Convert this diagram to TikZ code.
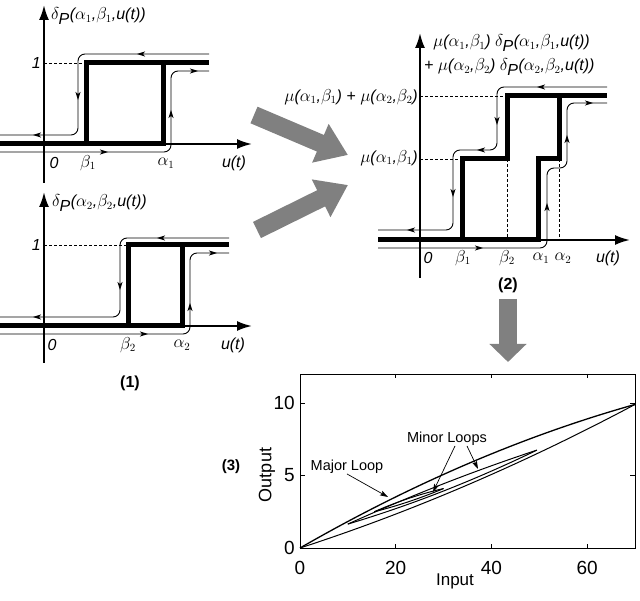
\documentclass[tikz,border=0pt]{standalone}
\usepackage{fontspec}
\setmainfont{Liberation Sans}
\usepackage{tikz}
\usetikzlibrary{arrows.meta,decorations.markings}
\definecolor{arrowgray}{RGB}{128,128,128}
\tikzset{
 axis/.style
  = {line width=2pt, -{Latex[length=15pt,width=10pt]}},
 relay/.style
  = {line width=5pt, line join=miter},
 branch/.style
  = {line width=0.9pt, rounded corners=7pt},
 flow/.style
  = {postaction={decorate, decoration={markings,
     mark=at position #1pt with {\arrow{Stealth[length=8pt,width=5pt,inset=2pt]}}}}},
 guide/.style
  = {line width=0.7pt, dash pattern=on 3pt off 2pt},
 bigarrow/.style
  = {draw=arrowgray, line width=18pt, -{Triangle[length=30pt,width=40pt]}},
 lab/.style
  = {font=\fontsize{16}{19}\selectfont, inner sep=0pt},
 panel/.style
  = {font=\fontsize{16}{19}\selectfont\bfseries, inner sep=0pt},
 ticklab/.style
  = {font=\fontsize{19}{22}\selectfont, inner sep=0pt},
 note/.style
  = {font=\fontsize{14.5}{17}\selectfont, inner sep=0pt},
 pointer/.style
  = {line width=0.7pt, -{Stealth[length=8pt,width=5pt,inset=1.5pt]}},
}

\begin{document}
\begin{tikzpicture}[x=1pt, y=-1pt]
\useasboundingbox (0,0) rectangle (640,601);

% relay 1
\coordinate (y1a) at (44,183);
\coordinate (y1b) at (44,5);
\coordinate (x1a) at (0,144);
\coordinate (x1b) at (252,144);
\draw [axis] (y1a) -- (y1b);
\draw [axis] (x1a) -- (x1b);
\draw [guide] (44,63) -- (86,63);
\draw [relay] (0,144) -- (163,144) -- (163,63);
\draw [relay] (86,144) -- (86,63) -- (209,63);
\draw [branch, flow=72, flow=174, flow=251] (209,54) -- (78,54) -- (78,135) -- (0,135);
\draw [branch, flow=108, flow=210, flow=273] (0,152) -- (171,152) -- (171,71) -- (209,71);
\node (lab1) [lab, anchor=west] at (51,16) {\textit{$\delta_{\textit{P}}$($\alpha_1$,$\beta_1$,u(t))}};
\node (one1) [lab, anchor=east] at (41,63) {\textit{1}};
\node (zero1) [lab] at (54,163) {\textit{0}};
\node (b1) [lab] at (88,163) {$\beta_1$};
\node (a1) [lab] at (166,163) {$\alpha_1$};
\node (u1) [lab] at (234,163) {\textit{u(t)}};

% relay 2
\coordinate (y2a) at (44,363);
\coordinate (y2b) at (44,192);
\coordinate (x2a) at (0,326);
\coordinate (x2b) at (252,326);
\draw [axis] (y2a) -- (y2b);
\draw [axis] (x2a) -- (x2b);
\draw [guide] (44,245) -- (128,245);
\draw [relay] (0,326) -- (182,326) -- (182,245);
\draw [relay] (128,326) -- (128,245) -- (229,245);
\draw [branch, flow=72, flow=158, flow=269] (229,238) -- (120,238) -- (120,317) -- (0,317);
\draw [branch, flow=148, flow=218, flow=292] (0,334) -- (190,334) -- (190,253) -- (229,253);
\node (lab2) [lab, anchor=west] at (52,203) {\textit{$\delta_{\textit{P}}$($\alpha_2$,$\beta_2$,u(t))}};
\node (one2) [lab, anchor=east] at (41,245) {\textit{1}};
\node (zero2) [lab] at (52,345) {\textit{0}};
\node (b2) [lab] at (128,345) {$\beta_2$};
\node (a2) [lab] at (182,345) {$\alpha_2$};
\node (u2) [lab] at (233,345) {\textit{u(t)}};
\node (cap1) [panel] at (130,383) {(1)};

% sum of relays
\coordinate (y3a) at (420,278);
\coordinate (y3b) at (420,33);
\coordinate (x3a) at (378,240);
\coordinate (x3b) at (630,240);
\draw [axis] (y3a) -- (y3b);
\draw [axis] (x3a) -- (x3b);
\draw [guide] (420,96) -- (507,96);
\draw [guide] (420,159) -- (462,159);
\draw [guide] (507,159) -- (507,240);
\draw [guide] (559,159) -- (559,240);
\draw [relay] (378,240) -- (538,240) -- (538,159) -- (559,159) -- (559,96);
\draw [relay] (462,240) -- (462,159) -- (507,159) -- (507,96) -- (607,96);
\draw [branch, flow=70, flow=145, flow=187, flow=255, flow=331]
  (607,87) -- (497,87) -- (497,150) -- (453,150) -- (453,230) -- (378,230);
\draw [branch, flow=105, flow=211, flow=293, flow=348]
  (378,248) -- (547,248) -- (547,168) -- (567,168) -- (567,103) -- (607,103);
\node (sum1) [lab, anchor=west] at (433,43) {\textit{$\mu$($\alpha_1$,$\beta_1$) $\delta_{\textit{P}}$($\alpha_1$,$\beta_1$,u(t))}};
\node (sum2) [lab, anchor=west] at (424,67) {\textit{+ $\mu$($\alpha_2$,$\beta_2$) $\delta_{\textit{P}}$($\alpha_2$,$\beta_2$,u(t))}};
\node (mu12) [lab, anchor=east] at (418,97) {\textit{$\mu$($\alpha_1$,$\beta_1$) + $\mu$($\alpha_2$,$\beta_2$)}};
\node (mu1) [lab, anchor=east] at (418,158) {\textit{$\mu$($\alpha_1$,$\beta_1$)}};
\node (zero3) [lab] at (428,258) {\textit{0}};
\node (b3) [lab] at (463,258) {$\beta_1$};
\node (b4) [lab] at (507,258) {$\beta_2$};
\node (a3) [lab] at (541,258) {$\alpha_1$};
\node (a4) [lab] at (563,258) {$\alpha_2$};
\node (u3) [lab] at (608,258) {\textit{u(t)}};
\node (cap2) [panel] at (508,285) {(2)};

% gray arrows
\coordinate (g1a) at (254,115);
\coordinate (g1b) at (348,155);
\coordinate (g2a) at (257,230);
\coordinate (g2b) at (348,185);
\coordinate (g3a) at (508,299);
\coordinate (g3b) at (508,362);
\draw [bigarrow] (g1a) -- (g1b);
\draw [bigarrow] (g2a) -- (g2b);
\draw [bigarrow, -{Triangle[length=18pt,width=36pt]}] (g3a) -- (g3b);

% hysteresis plot
\begin{scope}[shift={(300,548)}, x=4.786pt, y=14.5pt]
\draw [line width=0.8pt] (0,0) rectangle (70,12);
\foreach \t in {20,40,60} {
  \draw [line width=0.8pt] (\t,0) -- (\t,0.3);
  \draw [line width=0.8pt] (\t,12) -- (\t,11.7);
}
\foreach \t in {5,10} {
  \draw [line width=0.8pt] (0,\t) -- (1,\t);
  \draw [line width=0.8pt] (70,\t) -- (69,\t);
}
\foreach \t in {0,20,40,60}
  \node (xt\t) [ticklab, anchor=north, yshift=-13pt] at (\t,0) {\t};
\foreach \t in {0,5,10}
  \node (yt\t) [ticklab, anchor=east, xshift=-5pt] at (0,\t) {\t};
\draw [line width=1.3pt] plot[domain=0:70, samples=60] (\x, {9.9*\x/70 + 0.85*\x*(70-\x)/1225});
\draw [line width=1pt] plot[domain=0:70, samples=60] (\x, {9.9*\x/70 - 0.6*\x*(70-\x)/1225});
\draw [line width=1pt] plot[domain=0:1, samples=40] ({10+39.5*\x}, {1.65+5.1*\x + 0.8*\x*(1-\x)});
\draw [line width=1pt] plot[domain=0:1, samples=40] ({10+39.5*\x}, {1.65+5.1*\x - 1.2*\x*(1-\x)});
\draw [line width=1pt] plot[domain=0:1, samples=30] ({15.5+14.5*\x}, {2.5+1.6*\x + 0.5*\x*(1-\x)});
\draw [line width=1pt] plot[domain=0:1, samples=30] ({15.5+14.5*\x}, {2.5+1.6*\x - 0.4*\x*(1-\x)});
\end{scope}
\node (input) [font=\fontsize{17}{20}\selectfont, inner sep=0pt] at (455,581) {Input};
\node (output) [font=\fontsize{18}{21}\selectfont, inner sep=0pt, rotate=90] at (267,475) {Output};
\node (cap3) [panel, font=\fontsize{15}{18}\selectfont\bfseries] at (231,467) {(3)};
\node (major) [note] at (347,467) {Major Loop};
\node (minor) [note] at (447,439) {Minor Loops};
\coordinate (majtip) at (388,497);
\coordinate (mintip1) at (433,492);
\coordinate (mintip2) at (478,469);
\draw [pointer] (major.south) -- (majtip);
\draw [pointer] ([xshift=8pt]minor.south) -- (mintip1);
\draw [pointer] ([xshift=20pt]minor.south) -- (mintip2);
\end{tikzpicture}
\end{document}
